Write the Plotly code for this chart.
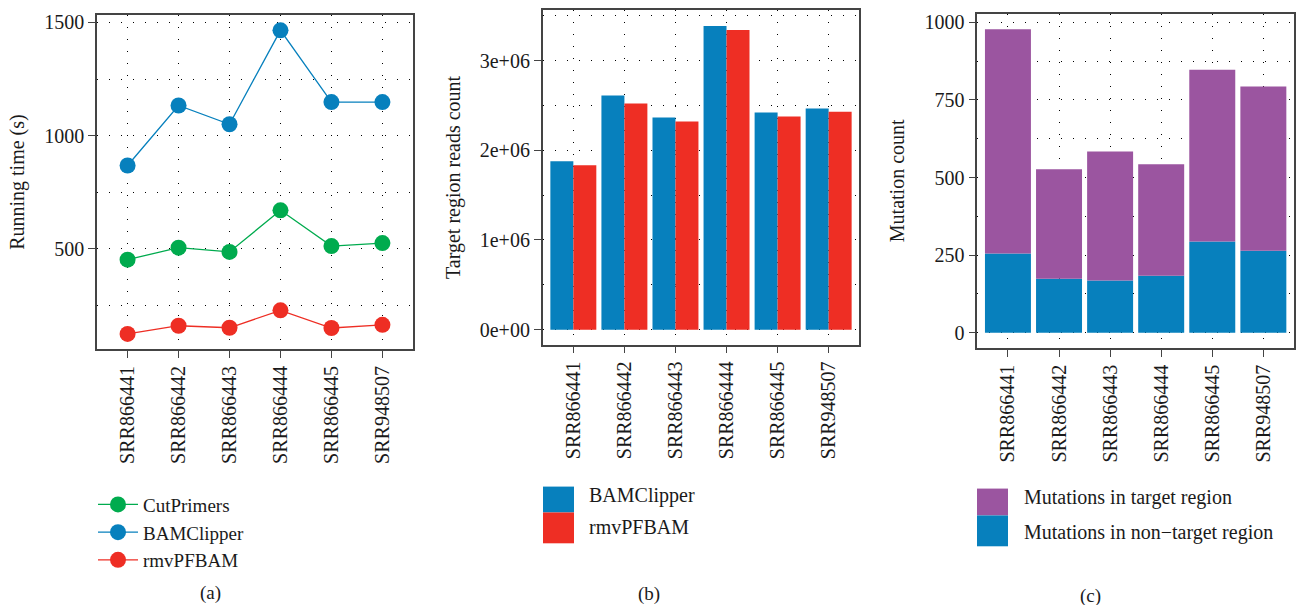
import plotly.graph_objects as go

samples = ["SRR866441", "SRR866442", "SRR866443", "SRR866444", "SRR866445", "SRR948507"]

# (a) running time (s)
cutprimers = [452, 505, 486, 670, 512, 525]
bamclipper_time = [868, 1133, 1050, 1465, 1148, 1148]
rmvpfbam_time = [124, 160, 151, 228, 150, 164]

# (b) target region reads count
bamclipper_reads = [1.877e6, 2.609e6, 2.365e6, 3.385e6, 2.420e6, 2.464e6]
rmvpfbam_reads = [1.833e6, 2.520e6, 2.320e6, 3.340e6, 2.376e6, 2.430e6]
reads_tickvals = [0, 1e6, 2e6, 3e6]
reads_ticktext = ["0e+00", "1e+06", "2e+06", "3e+06"]

# (c) mutation counts
mut_nontarget = [255, 174, 168, 184, 294, 264]
mut_target = [723, 353, 416, 359, 553, 529]

captions = ["(a)", "(b)", "(c)"]
bar_legend_b = ["BAMClipper", "rmvPFBAM"]
bar_legend_c = ["Mutations in target region", "Mutations in non\u2212target region"]

BLUE = "#0780bd"
RED = "#ee2e24"
GREEN = "#00ab4e"
PURPLE = "#9b55a0"
FONT = "Liberation Serif"
W, H = 1302, 605

fig = go.Figure()

for name, vals, col in [("CutPrimers", cutprimers, GREEN),
                        ("BAMClipper", bamclipper_time, BLUE),
                        ("rmvPFBAM", rmvpfbam_time, RED)]:
    fig.add_trace(go.Scatter(x=samples, y=vals, name=name, mode="lines+markers",
                             line=dict(color=col, width=1.3),
                             marker=dict(color=col, size=16),
                             xaxis="x", yaxis="y", legend="legend"))

fig.add_trace(go.Bar(x=samples, y=bamclipper_reads, name="BAMClipper", marker_color=BLUE,
                     marker_line_width=0, offsetgroup="b1", xaxis="x2", yaxis="y2", showlegend=False))
fig.add_trace(go.Bar(x=samples, y=rmvpfbam_reads, name="rmvPFBAM", marker_color=RED,
                     marker_line_width=0, offsetgroup="b2", xaxis="x2", yaxis="y2", showlegend=False))

fig.add_trace(go.Bar(x=samples, y=mut_nontarget, name=bar_legend_c[1], marker_color=BLUE,
                     marker_line_width=0, offsetgroup="c", xaxis="x3", yaxis="y3", showlegend=False))
fig.add_trace(go.Bar(x=samples, y=mut_target, base=mut_nontarget, name=bar_legend_c[0],
                     marker_color=PURPLE, marker_line_width=0, offsetgroup="c",
                     xaxis="x3", yaxis="y3", showlegend=False))

frame = "#444444"
grid = dict(showgrid=True, gridcolor="black", gridwidth=1.3, griddash="1px,11px")
tickfont = dict(family=FONT, size=20, color="#1a1a1a")


def xax(domain):
    return dict(domain=domain, type="category", range=[-0.6, 5.6], tickangle=-90,
                ticks="outside", ticklen=7, tickcolor=frame, tickwidth=1.3,
                showline=True, linecolor=frame, linewidth=1.6, mirror=True,
                tickfont=tickfont, zeroline=False, **grid)


def yax(domain, rng, dtick, minor_dtick, title):
    d = dict(domain=domain, range=rng, dtick=dtick, ticks="outside", ticklen=7,
             tickcolor=frame, tickwidth=1.3, showline=True, linecolor=frame, linewidth=1.6,
             mirror=True, tickfont=tickfont, zeroline=False,
             title=dict(text=title, font=dict(family=FONT, size=20, color="#1a1a1a"), standoff=14),
             minor=dict(dtick=minor_dtick, showgrid=True, gridcolor="black", gridwidth=1.3,
                        griddash="1px,11px", ticks=""),
             **grid)
    return d


def px_x(v):
    return v / W


def px_y(v):
    return 1 - v / H


ya = yax([px_y(348), px_y(12)], [56, 1533], 500, 250, "Running time (s)")
yb = yax([px_y(343.3), px_y(7.3)], [-0.166e6, 3.56e6], None, 500000, "Target region reads count")
yb.pop("dtick")
yb.update(tickmode="array", tickvals=reads_tickvals, ticktext=reads_ticktext)
yc = yax([px_y(346.7), px_y(10.7)], [-49, 1028], 250, 125, "Mutation count")

fig.update_layout(
    width=W, height=H,
    margin=dict(l=0, r=0, t=0, b=0),
    paper_bgcolor="white", plot_bgcolor="white",
    font=dict(family=FONT, size=20, color="#1a1a1a"),
    barmode="group", bargap=0.1, bargroupgap=0,
    xaxis=xax([px_x(97), px_x(413)]), yaxis=ya,
    xaxis2=dict(xax([px_x(542.7), px_x(859.3)]), anchor="y2"), yaxis2=dict(yb, anchor="x2"),
    xaxis3=dict(xax([px_x(977.3), px_x(1294)]), anchor="y3"), yaxis3=dict(yc, anchor="x3"),
    legend=dict(x=px_x(93), y=px_y(485), xanchor="left", yanchor="top",
                font=dict(family=FONT, size=19, color="#1a1a1a"),
                bgcolor="rgba(0,0,0,0)", itemwidth=40, tracegroupgap=0),
    showlegend=True,
)
fig.layout.xaxis.anchor = "y"
fig.layout.yaxis.anchor = "x"

shapes = []
annotations = []
# legend keys for (b)
for (y0, y1, col, txt, ty) in [(486, 512, BLUE, bar_legend_b[0], 495),
                               (512, 543, RED, bar_legend_b[1], 527)]:
    shapes.append(dict(type="rect", xref="paper", yref="paper", x0=px_x(543), x1=px_x(574),
                       y0=px_y(y1), y1=px_y(y0), fillcolor=col, line_width=0))
    annotations.append(dict(text=txt, xref="paper", yref="paper", x=px_x(587), y=px_y(ty),
                            xanchor="left", yanchor="middle", showarrow=False,
                            font=dict(family=FONT, size=20, color="#1a1a1a")))
# legend keys for (c)
for (y0, y1, col, txt, ty) in [(488, 515, PURPLE, bar_legend_c[0], 497),
                               (515, 546, BLUE, bar_legend_c[1], 532)]:
    shapes.append(dict(type="rect", xref="paper", yref="paper", x0=px_x(977), x1=px_x(1008),
                       y0=px_y(y1), y1=px_y(y0), fillcolor=col, line_width=0))
    annotations.append(dict(text=txt, xref="paper", yref="paper", x=px_x(1022), y=px_y(ty),
                            xanchor="left", yanchor="middle", showarrow=False,
                            font=dict(family=FONT, size=20, color="#1a1a1a")))
for cap, cx, cy in zip(captions, [210, 649, 1090], [593, 594, 596]):
    annotations.append(dict(text=cap, xref="paper", yref="paper", x=px_x(cx), y=px_y(cy),
                            xanchor="center", yanchor="middle", showarrow=False,
                            font=dict(family=FONT, size=19, color="#1a1a1a")))

fig.update_layout(shapes=shapes, annotations=annotations)
fig.write_html("out.html", config={"displayModeBar": False},
               post_script="document.body.style.margin='0px';document.body.style.overflow='hidden';")
